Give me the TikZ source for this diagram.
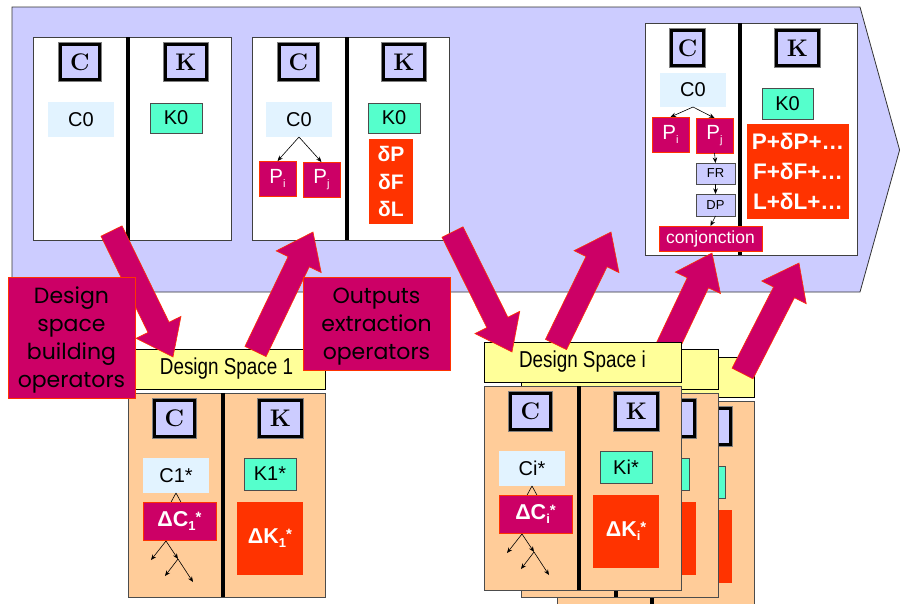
\documentclass[tikz,border=0pt]{standalone}
\usepackage{fontspec}
\usetikzlibrary{arrows.meta,calc}
\newfontfamily\arialf{Liberation Sans}
\newfontfamily\narrowf{Liberation Sans}[FakeStretch=0.82]
\newfontfamily\comicf{Poppins}
\newcommand\myfs[2]{\fontsize{#1}{#2}\selectfont}
\newcommand\sbs[2]{\raisebox{-4pt}{\myfs{#1}{#1}#2}}
\newcommand\sps[2]{\raisebox{4pt}{\myfs{#1}{#1}#2}}
\newcommand\topstrut{\rule{0pt}{22pt}}
\definecolor{lav}{HTML}{CCCCFF}
\definecolor{lblue}{HTML}{E2F3FF}
\definecolor{aqua}{HTML}{55FFCC}
\definecolor{mag}{HTML}{CC0066}
\definecolor{redo}{HTML}{FF3300}
\definecolor{yel}{HTML}{FFFF99}
\definecolor{orng}{HTML}{FFCC99}
\tikzset{
 base/.style={inner sep=0pt, outer sep=0pt, align=center},
 wpanel/.style={base, draw=black!75, fill=white, line width=0.8pt},
 opanel/.style={base, draw=black!70, fill=orng, line width=0.8pt, minimum width=197pt, minimum height=204pt},
 ylab/.style={base, draw=black, fill=yel, line width=0.8pt, minimum width=197pt, minimum height=40pt, font=\narrowf\myfs{23}{23}},
 divider/.style={line width=4.5pt, black},
 ckbox/.style={base, fill=lav, draw=black, line width=2.8pt, preaction={draw=black!50, line width=4.6pt}, font=\rmfamily\bfseries\myfs{24}{24}},
 cbox/.style={base, fill=lblue, font=\arialf\myfs{20}{20}},
 kbox/.style={base, fill=aqua, draw=black!70, line width=0.8pt, font=\arialf\myfs{20}{20}},
 mbox/.style={base, fill=mag, draw=redo, line width=0.8pt, text=white, font=\arialf\myfs{20.5}{20.5}},
 rbox/.style={base, fill=redo, text=white, font=\arialf\bfseries\myfs{21}{27.5}},
 sbox/.style={base, fill=lav, draw=black!70, line width=0.7pt, font=\arialf\myfs{13}{13}},
 link/.style={-{Stealth[length=5.5pt,width=4.5pt]}, line width=0.6pt, black},
 caret/.style={line width=0.6pt, black},
 bigarrow/.style={fill=mag, draw=redo, line width=0.6pt},
 callout/.style={base, fill=mag, draw=redo, line width=0.8pt, font=\comicf\myfs{22}{28}, text=black}
}
\newcommand\blockarr[3]{%
 \coordinate (#1t) at (#2);
 \coordinate (#1p) at (#3);
 \coordinate (#1h) at ($(#1p)!33pt!(#1t)$);
 \path[bigarrow] ($(#1t)!11.75pt!90:(#1p)$) -- ($(#1h)!11.75pt!90:(#1p)$) -- ($(#1h)!25pt!90:(#1p)$) -- (#1p) -- ($(#1h)!25pt!-90:(#1p)$) -- ($(#1h)!11.75pt!-90:(#1p)$) -- ($(#1t)!11.75pt!-90:(#1p)$) -- cycle;}
% #1 prefix, #2 shift, #3 label, #4 C text, #5 K text, #6 dC text, #7 dK text, #8 C letter, #9 K letter
\newcommand\dspanel[9]{%
 \begin{scope}[shift={(#2)}]
 \node[ylab] (#1y) at (226.5,369) {#3};
 \node[opanel] (#1p) at (226.5,495) {};
 \draw[divider] (223,393) -- (223,597);
 \node[ckbox, minimum width=40.4pt, minimum height=36.4pt] (#1cc) at (174.5,418.5) {#8};
 \node[ckbox, minimum width=42.4pt, minimum height=36.4pt] (#1kk) at (280.5,418.5) {#9};
 \node[cbox, minimum width=66pt, minimum height=35pt] (#1ci) at (176,475.5) {#4};
 \node[kbox, minimum width=52pt, minimum height=32pt] (#1ki) at (270,474) {#5};
 \coordinate (#1a1) at (170,504);
 \coordinate (#1a2) at (182,504);
 \draw[caret] (#1ci.south) -- (#1a1);
 \draw[caret] (#1ci.south) -- (#1a2);
 \node[mbox, font=\arialf\bfseries\myfs{21.5}{21.5}, minimum width=73pt, minimum height=38pt] (#1dc) at (179.5,521) {#6};
 \node[rbox, font=\arialf\bfseries\myfs{21.5}{21.5}, minimum width=66pt, minimum height=73pt] (#1dk) at (270,538.5) {#7};
 \coordinate (#1t0) at (166,541);
 \coordinate (#1t1) at (151,560);
 \coordinate (#1t2) at (178,559);
 \coordinate (#1t3) at (165,576);
 \coordinate (#1t4) at (193,582);
 \draw[link] (#1t0) -- (#1t1);
 \draw[link] (#1t0) -- (#1t2);
 \draw[link] (#1t2) -- (#1t3);
 \draw[link] (#1t2) -- (#1t4);
 \end{scope}}
\begin{document}
\begin{tikzpicture}[x=1pt, y=-1pt]
\path[use as bounding box, fill=white] (0,0) rectangle (900,603);
% big pentagon
\draw[fill=lav, draw=black!80, line width=0.8pt] (12,7) -- (860,7) -- (899.6,150) -- (860,292) -- (12,292) -- cycle;
% panel 1
\node[wpanel, minimum width=198pt, minimum height=203pt] (p1) at (132,138.5) {};
\draw[divider] (128,37) -- (128,240);
\node[ckbox, minimum width=39.4pt, minimum height=35.4pt] (p1cc) at (80,62) {C};
\node[ckbox, minimum width=41.4pt, minimum height=35.4pt] (p1kk) at (186,62) {K};
\node[cbox, minimum width=66pt, minimum height=35pt] (p1c0) at (81,119.5) {C0};
\node[kbox, minimum width=52pt, minimum height=30pt] (p1k0) at (176,118) {K0};
% panel 2
\node[wpanel, minimum width=197pt, minimum height=203pt] (p2) at (350.5,138.5) {};
\draw[divider] (347,37) -- (347,240);
\node[ckbox, minimum width=38.4pt, minimum height=35.4pt] (p2cc) at (298.5,62) {C};
\node[ckbox, minimum width=41.4pt, minimum height=35.4pt] (p2kk) at (404,62) {K};
\node[cbox, minimum width=66pt, minimum height=35pt] (p2c0) at (299,119.5) {C0};
\node[mbox, minimum width=37pt, minimum height=35pt] (p2pi) at (277.5,178.5) {P\sbs{11}{i}};
\node[mbox, minimum width=37pt, minimum height=35pt] (p2pj) at (321.5,179.5) {P\sbs{11}{j}};
\draw[link] (p2c0.south) -- (p2pi.north);
\draw[link] (p2c0.south) -- (p2pj.north);
\node[kbox, minimum width=52pt, minimum height=30pt] (p2k0) at (394,118) {K0};
\node[rbox, minimum width=44pt, minimum height=85pt] (p2dk) at (391,181.5) {δP\\δF\\δL};
% panel 3
\node[wpanel, minimum width=212pt, minimum height=232pt] (p3) at (751,139) {};
\draw[divider] (740,23) -- (740,255);
\node[ckbox, minimum width=32.4pt, minimum height=35.4pt] (p3cc) at (687.5,48) {C};
\node[ckbox, minimum width=42.4pt, minimum height=35.4pt] (p3kk) at (797.5,48) {K};
\node[cbox, minimum width=66pt, minimum height=34pt] (p3c0) at (693,90) {C0};
\node[mbox, minimum width=37pt, minimum height=35pt] (p3pi) at (670.5,134.5) {P\sbs{11}{i}};
\node[mbox, minimum width=37pt, minimum height=35pt] (p3pj) at (714.5,135.5) {P\sbs{11}{j}};
\node[sbox, minimum width=39pt, minimum height=21pt] (p3fr) at (715.5,173.5) {FR};
\node[sbox, minimum width=39pt, minimum height=22pt] (p3dp) at (715.5,205) {DP};
\node[mbox, font=\arialf\myfs{17.5}{17.5}, minimum width=103pt, minimum height=25pt] (p3cj) at (710.5,238.5) {conjonction};
\draw[link] (p3c0.south) -- (p3pi.north);
\draw[link] (p3c0.south) -- (p3pj.north);
\draw[link] (p3pj.south) -- (p3fr.north);
\draw[link] (p3fr.south) -- (p3dp.north);
\draw[link] (p3dp.south) -- (p3cj.north);
\node[kbox, minimum width=51pt, minimum height=31pt] (p3k0) at (787.5,103.5) {K0};
\node[rbox, font=\arialf\bfseries\myfs{22.5}{30}, minimum width=102pt, minimum height=95pt] (p3dk) at (798,171.5) {P+δP+…\\F+δF+…\\L+δL+…};
% arrow behind the design space stack
\blockarr{E}{666,350}{712,253}
% design spaces (back layers first)
\dspanel{dsc}{429,8}{}{}{}{}{}{}{}
\dspanel{dsb}{393,0}{}{}{}{}{}{}{}
\dspanel{dsa}{356,-7}{Design Space i}{Ci*}{Ki*}{ΔC\sbs{13}{i}\sps{15}{*}}{ΔK\sbs{13}{i}\sps{15}{*}}{C}{K}
\dspanel{dsi}{0,0}{Design Space 1}{C1*}{K1*}{ΔC\sbs{13}{1}\sps{15}{*}}{ΔK\sbs{13}{1}\sps{15}{*}}{C}{K}
% big arrows
\blockarr{A}{111.5,231}{173,357}
\blockarr{B}{255.5,351.5}{313,232}
\blockarr{C}{452.5,232}{512,352}
\blockarr{D}{556,344.5}{611,232}
\blockarr{F}{742.5,373.5}{799,263}
% callouts
\node[callout, minimum width=127pt, minimum height=121pt] (lb1) at (71.5,337.5) {\topstrut Design\\space\\building\\operators};
\node[callout, minimum width=147pt, minimum height=93pt] (lb2) at (376.5,323.5) {\topstrut Outputs\\extraction\\operators};
\end{tikzpicture}
\end{document}
